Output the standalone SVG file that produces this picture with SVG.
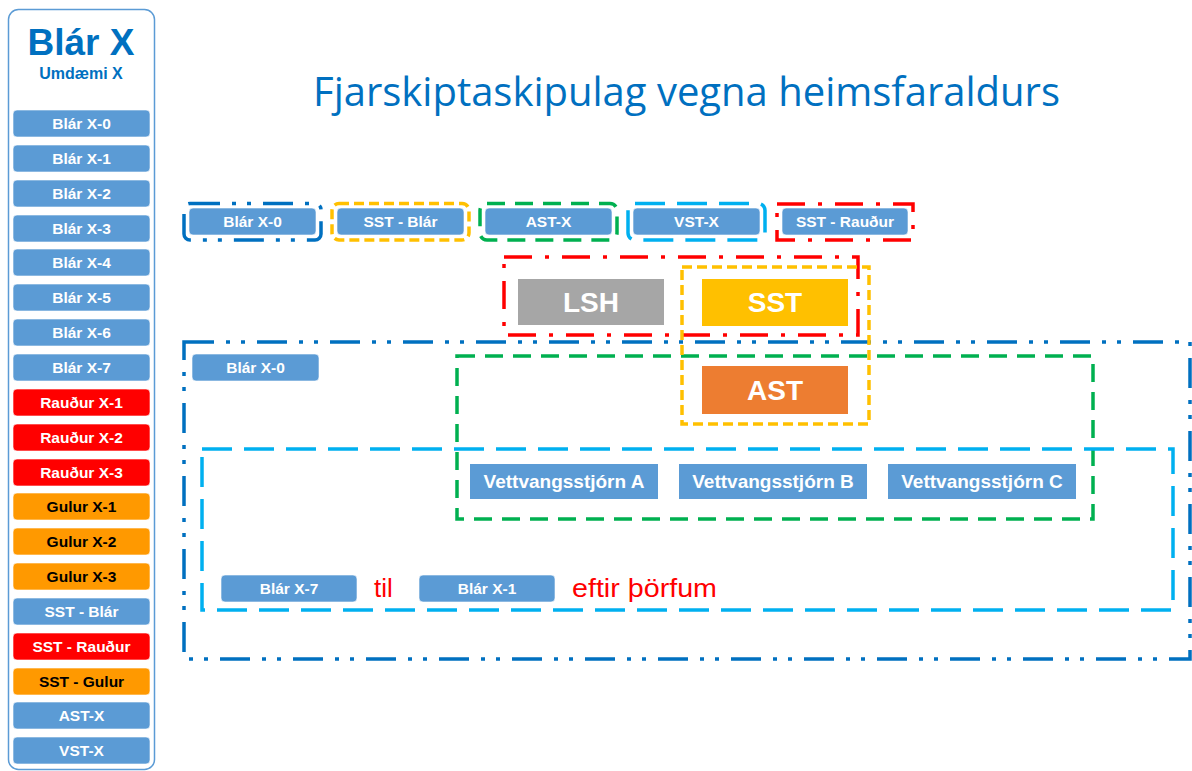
<svg xmlns="http://www.w3.org/2000/svg" width="1192" height="771" viewBox="0 0 1192 771">
<style>
  .btn{stroke:#ffffff;stroke-width:1;stroke-opacity:0.6}
  .blue{fill:#5b9bd5}
  .red{fill:#ff0000}
  .org{fill:#ff9900}
  .bt{font-family:"Liberation Sans",Arial,sans-serif;font-weight:bold;font-size:15.5px;fill:#ffffff;text-anchor:middle}
  .bk{fill:#000000}
  .big{font-family:"Liberation Sans",Arial,sans-serif;font-weight:bold;font-size:28px;fill:#ffffff;text-anchor:middle}
  .vt{font-family:"Liberation Sans",Arial,sans-serif;font-weight:bold;font-size:19px;fill:#ffffff;text-anchor:middle}
  .redtxt{font-family:"Liberation Sans",Arial,sans-serif;font-size:26px;fill:#ff0000}
  .f{fill:none;stroke-width:3.5}
  .fb{stroke:#0070c0;stroke-dasharray:30 12 4 11 4 12}
  .fr{stroke:#ff0000;stroke-dasharray:28 13 4 13}
  .fy{stroke:#ffc000;stroke-dasharray:10 5}
  .fg{stroke:#00b050;stroke-dasharray:18 10}
  .fc{stroke:#00b0f0;stroke-dasharray:30 12}
</style>

<g id="title">
  <text x="313" y="106" font-family="'Open Sans','Noto Sans',sans-serif" font-size="41" fill="#0070c0" textLength="747" lengthAdjust="spacingAndGlyphs">Fjarskiptaskipulag vegna heimsfaraldurs</text>
</g>

<g id="left-panel">
  <rect x="8.5" y="9.5" width="146" height="760" rx="10" fill="#ffffff" stroke="#5b9bd5" stroke-width="1.5"/>
  <text x="81" y="55" font-family="'Liberation Sans',Arial,sans-serif" font-weight="bold" font-size="37" fill="#0070c0" text-anchor="middle">Blár X</text>
  <text x="81" y="79" font-family="'Liberation Sans',Arial,sans-serif" font-weight="bold" font-size="16" fill="#0070c0" text-anchor="middle">Umdæmi X</text>
  <g id="lp-btn-0"><rect class="btn blue" x="13" y="110" width="137" height="27" rx="4"/><text class="bt" x="81.5" y="129">Blár X-0</text></g>
  <g id="lp-btn-1"><rect class="btn blue" x="13" y="145" width="137" height="27" rx="4"/><text class="bt" x="81.5" y="164">Blár X-1</text></g>
  <g id="lp-btn-2"><rect class="btn blue" x="13" y="180" width="137" height="27" rx="4"/><text class="bt" x="81.5" y="199">Blár X-2</text></g>
  <g id="lp-btn-3"><rect class="btn blue" x="13" y="215" width="137" height="27" rx="4"/><text class="bt" x="81.5" y="234">Blár X-3</text></g>
  <g id="lp-btn-4"><rect class="btn blue" x="13" y="249" width="137" height="27" rx="4"/><text class="bt" x="81.5" y="268">Blár X-4</text></g>
  <g id="lp-btn-5"><rect class="btn blue" x="13" y="284" width="137" height="27" rx="4"/><text class="bt" x="81.5" y="303">Blár X-5</text></g>
  <g id="lp-btn-6"><rect class="btn blue" x="13" y="319" width="137" height="27" rx="4"/><text class="bt" x="81.5" y="338">Blár X-6</text></g>
  <g id="lp-btn-7"><rect class="btn blue" x="13" y="354" width="137" height="27" rx="4"/><text class="bt" x="81.5" y="373">Blár X-7</text></g>
  <g id="lp-btn-8"><rect class="btn red" x="13" y="389" width="137" height="27" rx="4"/><text class="bt" x="81.5" y="408">Rauður X-1</text></g>
  <g id="lp-btn-9"><rect class="btn red" x="13" y="424" width="137" height="27" rx="4"/><text class="bt" x="81.5" y="443">Rauður X-2</text></g>
  <g id="lp-btn-10"><rect class="btn red" x="13" y="459" width="137" height="27" rx="4"/><text class="bt" x="81.5" y="478">Rauður X-3</text></g>
  <g id="lp-btn-11"><rect class="btn org" x="13" y="493" width="137" height="27" rx="4"/><text class="bt bk" x="81.5" y="512">Gulur X-1</text></g>
  <g id="lp-btn-12"><rect class="btn org" x="13" y="528" width="137" height="27" rx="4"/><text class="bt bk" x="81.5" y="547">Gulur X-2</text></g>
  <g id="lp-btn-13"><rect class="btn org" x="13" y="563" width="137" height="27" rx="4"/><text class="bt bk" x="81.5" y="582">Gulur X-3</text></g>
  <g id="lp-btn-14"><rect class="btn blue" x="13" y="598" width="137" height="27" rx="4"/><text class="bt" x="81.5" y="617">SST - Blár</text></g>
  <g id="lp-btn-15"><rect class="btn red" x="13" y="633" width="137" height="27" rx="4"/><text class="bt" x="81.5" y="652">SST - Rauður</text></g>
  <g id="lp-btn-16"><rect class="btn org" x="13" y="668" width="137" height="27" rx="4"/><text class="bt bk" x="81.5" y="687">SST - Gulur</text></g>
  <g id="lp-btn-17"><rect class="btn blue" x="13" y="702" width="137" height="27" rx="4"/><text class="bt" x="81.5" y="721">AST-X</text></g>
  <g id="lp-btn-18"><rect class="btn blue" x="13" y="737" width="137" height="27" rx="4"/><text class="bt" x="81.5" y="756">VST-X</text></g>
</g>

<g id="frames">
  <rect class="f fb" x="184" y="203.5" width="137" height="36.5" rx="6"/>
  <rect class="f fy" x="332" y="203.5" width="137" height="36.5" rx="7"/>
  <rect class="f fg" x="480" y="203.5" width="137" height="36.5" rx="7"/>
  <rect class="f fc" x="628" y="203.5" width="137" height="36.5" rx="7"/>
  <rect class="f fr" x="777" y="204" width="136" height="36"/>
  <rect class="f fb" x="184" y="342" width="1006" height="317"/>
  <rect class="f fg" x="457" y="356" width="636" height="163"/>
  <rect class="f fc" x="202" y="449" width="971" height="161"/>
  <rect class="f fr" x="504" y="257" width="354" height="78"/>
  <rect class="f fy" x="682" y="267" width="187" height="157"/>
</g>

<g id="top-blar-x0"><rect class="btn blue" x="189" y="208" width="127" height="27" rx="4"/><text class="bt" x="252.5" y="227">Blár X-0</text></g>
<g id="top-sst-blar"><rect class="btn blue" x="337" y="208" width="127" height="27" rx="4"/><text class="bt" x="400.5" y="227">SST - Blár</text></g>
<g id="top-ast-x"><rect class="btn blue" x="485" y="208" width="127" height="27" rx="4"/><text class="bt" x="548.5" y="227">AST-X</text></g>
<g id="top-vst-x"><rect class="btn blue" x="633" y="208" width="127" height="27" rx="4"/><text class="bt" x="696.5" y="227">VST-X</text></g>
<g id="top-sst-raudur"><rect class="btn blue" x="782" y="208" width="126" height="27" rx="4"/><text class="bt" x="845" y="227">SST - Rauður</text></g>

<g id="lsh"><rect x="518" y="279" width="146" height="46" fill="#a6a6a6"/><text class="big" x="591" y="312">LSH</text></g>
<g id="sst"><rect x="702" y="279" width="146" height="47" fill="#ffc000"/><text class="big" x="775" y="312">SST</text></g>
<g id="ast"><rect x="702" y="366" width="146" height="48" fill="#ed7d31"/><text class="big" x="775" y="400">AST</text></g>

<g id="inner-blar-x0"><rect class="btn blue" x="192" y="354" width="127" height="27" rx="4"/><text class="bt" x="255.5" y="373">Blár X-0</text></g>

<g id="vett-a"><rect x="470" y="464" width="188" height="35" fill="#5b9bd5"/><text class="vt" x="564" y="488">Vettvangsstjórn A</text></g>
<g id="vett-b"><rect x="679" y="464" width="188" height="35" fill="#5b9bd5"/><text class="vt" x="773" y="488">Vettvangsstjórn B</text></g>
<g id="vett-c"><rect x="888" y="464" width="188" height="35" fill="#5b9bd5"/><text class="vt" x="982" y="488">Vettvangsstjórn C</text></g>

<g id="bottom-blar-x7"><rect class="btn blue" x="221" y="575" width="136" height="27" rx="4"/><text class="bt" x="289" y="594">Blár X-7</text></g>
<g id="til"><text class="redtxt" x="374" y="597">til</text></g>
<g id="bottom-blar-x1"><rect class="btn blue" x="419" y="575" width="136" height="27" rx="4"/><text class="bt" x="487" y="594">Blár X-1</text></g>
<g id="eftir"><text class="redtxt" x="572" y="597" textLength="145" lengthAdjust="spacingAndGlyphs">eftir þörfum</text></g>
</svg>
